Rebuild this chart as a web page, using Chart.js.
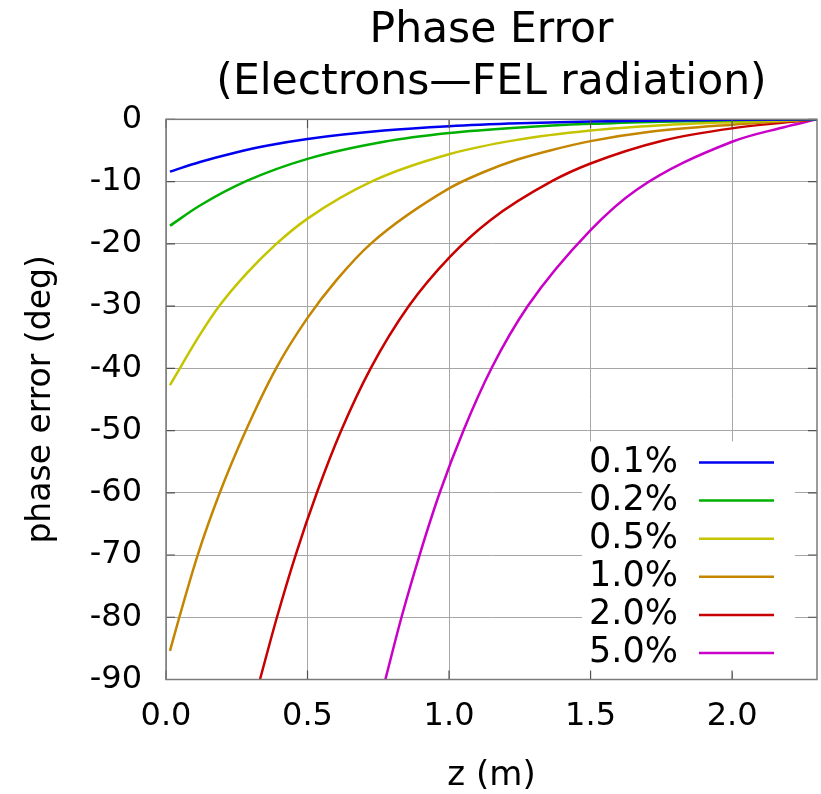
<!DOCTYPE html>
<html><head><meta charset="utf-8">
<script src="https://cdn.jsdelivr.net/npm/chart.js@4.4.0/dist/chart.umd.min.js"></script>
<style>html,body{margin:0;padding:0;background:#fff;}canvas{display:block;}</style>
</head><body>
<canvas id="c" width="821" height="794"></canvas>
<script>
// ---- data ----
const seriesLabels = ['0.1%', '0.2%', '0.5%', '1.0%', '2.0%', '5.0%'];

const z01 = [0.014, 0.12, 0.24, 0.36, 0.5, 0.77, 1.0, 1.25, 1.5, 1.75, 2.0, 2.3];
const p01 = [-8.4, -6.85, -5.4, -4.2, -3.15, -1.8, -1.1, -0.64, -0.36, -0.18, -0.07, 0];

const z02 = [0.014, 0.12, 0.285, 0.5, 0.77, 1.0, 1.25, 1.5, 1.75, 2.0, 2.3];
const p02 = [-17.1, -13.85, -9.9, -6.35, -3.6, -2.2, -1.3, -0.72, -0.37, -0.15, 0];

const z05 = [0.014, 0.12, 0.188, 0.285, 0.385, 0.5, 0.733, 1.0, 1.24, 1.5, 1.75, 2.0, 2.3];
const p05 = [-42.7, -34.6, -30, -24.75, -20.2, -15.95, -9.85, -5.6, -3.3, -1.8, -0.95, -0.45, 0];

const z10 = [0.014, 0.047, 0.112, 0.19, 0.282, 0.389, 0.5, 0.603, 0.723, 1.0, 1.121, 1.239, 1.357, 1.5, 1.71, 2.0, 2.3];
const p10 = [-85.4, -80, -70, -60, -50, -40, -31.9, -25.8, -20, -11.1, -8.5, -6.5, -5.0, -3.5, -2.0, -0.85, 0];

const z20 = [0.332, 0.392, 0.458, 0.533, 0.619, 0.723, 0.858, 1.003, 1.146, 1.365, 1.5, 1.757, 2.0, 2.3];
const p20 = [-90, -80, -70, -60, -50, -40, -30, -22.1, -16.2, -9.9, -7.1, -3.4, -1.45, 0];

const z50 = [0.775, 0.832, 0.896, 0.967, 1.051, 1.15, 1.278, 1.5, 1.663, 2.0, 2.18, 2.3];
const p50 = [-90, -80, -70, -60, -50, -40, -30, -17.8, -11.3, -3.6, -1.3, 0];

const xTicks = [0, 0.5, 1.0, 1.5, 2.0];
const yTicks = [0, -10, -20, -30, -40, -50, -60, -70, -80, -90];

// ---- styles ----
const seriesColors = ['#0000f0', '#00b000', '#c4c400', '#c48600', '#c80000', '#c800c8'];
const FONT = "'DejaVu Sans', Verdana, sans-serif";

const zs = [z01, z02, z05, z10, z20, z50];
const ps = [p01, p02, p05, p10, p20, p50];

const datasets = seriesLabels.map((lab, i) => ({
  label: lab,
  data: zs[i].map((z, k) => ({x: z, y: ps[i][k]})),
  borderColor: seriesColors[i],
  backgroundColor: seriesColors[i],
  borderWidth: 2.5,
  pointRadius: 0,
  fill: false,
  cubicInterpolationMode: 'monotone'
}));

const framePlugin = {
  id: 'frame',
  afterDatasetsDraw(chart) {
    const {ctx, chartArea: a, scales} = chart;
    ctx.save();
    // legend box (white, covering grid)
    const bx = a.right - 235, by = a.bottom - 238, bw = 213, bh = 231;
    ctx.fillStyle = '#ffffff';
    ctx.fillRect(bx, by, bw, bh);
    ctx.font = '35px ' + FONT;
    ctx.textAlign = 'right';
    ctx.textBaseline = 'middle';
    seriesLabels.forEach((lab, i) => {
      const yy = by + 21 + i * 38.1;
      ctx.fillStyle = '#000';
      ctx.fillText(lab, bx + 96, yy);
      ctx.strokeStyle = seriesColors[i];
      ctx.lineWidth = 2.5;
      ctx.beginPath();
      ctx.moveTo(bx + 117, yy);
      ctx.lineTo(bx + 192, yy);
      ctx.stroke();
    });
    // inward tick marks
    ctx.strokeStyle = '#505050';
    ctx.lineWidth = 1.2;
    ctx.beginPath();
    yTicks.forEach(v => {
      const y = scales.y.getPixelForValue(v);
      ctx.moveTo(a.left, y); ctx.lineTo(a.left + 9, y);
      ctx.moveTo(a.right, y); ctx.lineTo(a.right - 9, y);
    });
    xTicks.forEach(v => {
      const x = scales.x.getPixelForValue(v);
      ctx.moveTo(x, a.bottom); ctx.lineTo(x, a.bottom - 9);
      ctx.moveTo(x, a.top); ctx.lineTo(x, a.top + 9);
    });
    ctx.stroke();
    // frame
    ctx.strokeStyle = '#7a7a7a';
    ctx.lineWidth = 1.5;
    ctx.strokeRect(a.left, a.top, a.right - a.left, a.bottom - a.top);
    ctx.restore();
  }
};

new Chart(document.getElementById('c'), {
  type: 'line',
  data: {datasets},
  plugins: [framePlugin],
  options: {
    responsive: false,
    animation: false,
    devicePixelRatio: 1,
    layout: {padding: {left: 0, right: 4, top: 0, bottom: 0}},
    plugins: {
      legend: {display: false},
      tooltip: {enabled: false},
      title: {
        display: true,
        fullSize: false,
        text: ['Phase Error', '(Electrons\u2014FEL radiation)'],
        color: '#000',
        font: {family: FONT, size: 42.5, weight: 'normal', lineHeight: 1.224},
        padding: {top: 5, bottom: 10.3}
      }
    },
    scales: {
      x: {
        type: 'linear',
        min: 0, max: 2.3,
        afterFit(s) { s.height = 114.5; },
        afterBuildTicks(s) { s.ticks = xTicks.map(v => ({value: v})); },
        ticks: {
          color: '#000',
          font: {family: FONT, size: 32},
          padding: 18,
          maxRotation: 0,
          autoSkip: false,
          callback: v => Number(v).toFixed(1)
        },
        grid: {color: '#a6a6a6', lineWidth: 1, drawTicks: false},
        border: {display: false},
        title: {
          display: true,
          text: 'z (m)',
          color: '#000',
          font: {family: FONT, size: 34, lineHeight: 1},
          padding: {top: 0, bottom: 1}
        }
      },
      y: {
        type: 'linear',
        min: -90, max: 0,
        afterFit(s) { s.width = 166; },
        afterBuildTicks(s) { s.ticks = yTicks.map(v => ({value: v})); },
        ticks: {
          color: '#000',
          font: {family: FONT, size: 32},
          padding: 24,
          autoSkip: false,
          callback: v => String(v)
        },
        grid: {color: '#a6a6a6', lineWidth: 1, drawTicks: false},
        border: {display: false},
        title: {
          display: true,
          text: 'phase error (deg)',
          color: '#000',
          font: {family: FONT, size: 33, lineHeight: 1},
          padding: {top: 24.5, bottom: 0}
        }
      }
    }
  }
});
</script>
</body></html>
